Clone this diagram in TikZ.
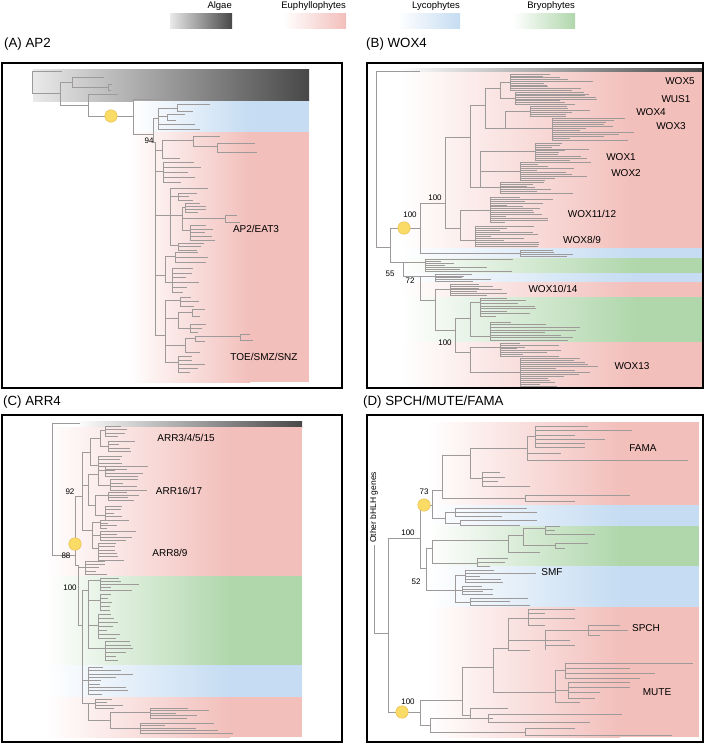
\documentclass[tikz,border=0pt]{standalone}
\usepackage{fontspec}
\setmainfont{Liberation Sans}

\definecolor{euph}{RGB}{242,191,187}
\definecolor{lyco}{RGB}{197,220,242}
\definecolor{bryo}{RGB}{176,215,172}
\definecolor{algae}{RGB}{72,72,72}
\definecolor{nodefill}{RGB}{250,219,102}
\definecolor{nodeline}{RGB}{226,186,70}
\definecolor{twig}{RGB}{158,154,154}

\tikzset{
  branch/.style={draw=twig, line width=0.3pt},
  panel/.style={draw=black, line width=1.6pt},
  title/.style={anchor=west, inner sep=0pt, font=\fontsize{13.3}{15}\selectfont},
  clade/.style={inner sep=0pt, font=\fontsize{10}{12}\selectfont},
  boot/.style={inner sep=0pt, font=\fontsize{8}{9}\selectfont},
  keytext/.style={anchor=base east, inner sep=0pt, font=\fontsize{9.5}{11}\selectfont},
  dupnode/.style={circle, fill=nodefill, draw=nodeline, line width=0.4pt, minimum size=12.5pt, inner sep=0pt},
}

% x start (white), x full colour, x end, y top, y bottom, colour
\newcommand{\colband}[6]{%
  \shade[left color=white, right color=#6] (#1,#4) rectangle (#2,#5);
  \fill[#6] (#2,#4) rectangle (#3,#5);}

% stem x, top y, bottom y, intervals, shortest tip x, longest tip x
\newcommand{\tipcomb}[6]{%
  \draw[branch] (#1,#2) -- (#1,#3);
  \foreach \k in {0,...,#4}{%
    \pgfmathsetmacro{\tipy}{#2+\k*(#3-#2)/#4}
    \pgfmathsetmacro{\tipx}{#5+rnd*(#6-#5)}
    \draw[branch] (#1,\tipy) -- (\tipx,\tipy);
  }}

\begin{document}
\begin{tikzpicture}[x=1pt, y=-1pt]
\useasboundingbox (0,0) rectangle (709,745);
\pgfmathsetseed{11}

% key
\shade[left color=algae!12, right color=algae] (170,13) rectangle (232,28);
\shade[left color=white, right color=euph] (283,13) rectangle (346,28);
\shade[left color=white, right color=lyco] (398,13) rectangle (460,28);
\shade[left color=white, right color=bryo] (513,13) rectangle (575,28);
\node[keytext] (keyalgae) at (232,8) {Algae};
\node[keytext] (keyeuph) at (346,8) {Euphyllophytes};
\node[keytext] (keylyco) at (460,8) {Lycophytes};
\node[keytext] (keybryo) at (575,8) {Bryophytes};

\node[title] (titleA) at (4,44) {(A) AP2};
\node[title] (titleB) at (366,44) {(B) WOX4};
\node[title] (titleC) at (3,402) {(C) ARR4};
\node[title] (titleD) at (363,402) {(D) SPCH/MUTE/FAMA};

% (A) AP2
\shade[left color=algae!12, right color=algae] (33,69) rectangle (309,101);
\colband{133}{250}{309}{101}{132}{lyco}
\colband{128}{250}{309}{132}{382}{euph}

\draw[branch] (32,71) -- (32,93);
\draw[branch] (32,71) -- (62,71);
\draw[branch] (32,93) -- (60,93);
\draw[branch] (60,82) -- (60,105);
\draw[branch] (60,82) -- (72,82);
\draw[branch] (72,77) -- (72,87);
\draw[branch] (72,77) -- (104,77);
\draw[branch] (72,87) -- (108,87);
\draw[branch] (108,84) -- (108,90);
\draw[branch] (108,84) -- (112,84);
\draw[branch] (108,90) -- (111,90);
\draw[branch] (60,105) -- (88,105);
\draw[branch] (88,94) -- (88,116);
\draw[branch] (88,94) -- (118,94);
\draw[branch] (88,116) -- (133,116);
\draw[branch] (133,99) -- (133,134);
\draw[branch] (133,99) -- (172,99);
\draw[branch] (133,134) -- (153,134);
\draw[branch] (153,118) -- (153,142);
\draw[branch] (153,118) -- (158,118);
\draw[branch] (158,108) -- (158,129);
\draw[branch] (158,108) -- (177,108);
\draw[branch] (177,104) -- (177,111);
\draw[branch] (177,104) -- (210,104);
\draw[branch] (177,111) -- (193,111);
\draw[branch] (158,116) -- (167,116);
\draw[branch] (167,114) -- (167,120);
\draw[branch] (167,114) -- (185,114);
\draw[branch] (167,120) -- (176,120);
\draw[branch] (158,124) -- (195,124);
\draw[branch] (158,129) -- (200,129);
\draw[branch] (153,142) -- (155,142);
\draw[branch] (155,142) -- (155,335);
\draw[branch] (155,150) -- (162,150);
\draw[branch] (162,140) -- (162,158);
\draw[branch] (162,140) -- (193,140);
\draw[branch] (193,136) -- (193,146);
\draw[branch] (193,136) -- (220,136);
\draw[branch] (193,146) -- (217,146);
\draw[branch] (217,143) -- (217,152);
\draw[branch] (217,143) -- (255,143);
\draw[branch] (217,152) -- (257,152);
\draw[branch] (162,158) -- (180,158);
\draw[branch] (155,171) -- (163,171);
\tipcomb{163}{162}{182}{4}{180}{202}
\draw[branch] (155,215) -- (170,215);
\draw[branch] (170,188) -- (170,245);
\draw[branch] (170,188) -- (208,188);
\draw[branch] (170,196) -- (178,196);
\tipcomb{178}{193}{200}{2}{185}{205}
\draw[branch] (170,215) -- (182,215);
\draw[branch] (182,207) -- (182,230);
\draw[branch] (182,207) -- (185,207);
\tipcomb{185}{203}{212}{3}{195}{212}
\draw[branch] (182,218) -- (225,218);
\draw[branch] (225,215) -- (225,222);
\draw[branch] (225,215) -- (237,215);
\draw[branch] (225,222) -- (240,222);
\draw[branch] (182,230) -- (190,230);
\tipcomb{190}{225}{240}{4}{200}{218}
\draw[branch] (170,245) -- (178,245);
\tipcomb{178}{243}{250}{2}{190}{205}
\draw[branch] (155,275) -- (165,275);
\draw[branch] (165,256) -- (165,282);
\draw[branch] (165,256) -- (175,256);
\tipcomb{175}{252}{262}{2}{195}{212}
\draw[branch] (165,282) -- (172,282);
\tipcomb{172}{268}{292}{5}{182}{200}
\draw[branch] (155,335) -- (165,335);
\draw[branch] (165,300) -- (165,362);
\draw[branch] (165,300) -- (180,300);
\tipcomb{180}{297}{306}{2}{190}{205}
\draw[branch] (165,318) -- (178,318);
\draw[branch] (178,312) -- (178,328);
\draw[branch] (178,312) -- (192,312);
\draw[branch] (192,309) -- (192,316);
\draw[branch] (192,309) -- (205,309);
\draw[branch] (192,316) -- (200,316);
\draw[branch] (178,328) -- (190,328);
\tipcomb{190}{324}{332}{2}{195}{208}
\draw[branch] (165,345) -- (185,345);
\draw[branch] (185,338) -- (185,352);
\draw[branch] (185,338) -- (195,338);
\draw[branch] (195,336) -- (195,341);
\draw[branch] (195,336) -- (240,336);
\draw[branch] (240,334) -- (240,340);
\draw[branch] (240,334) -- (250,334);
\draw[branch] (240,340) -- (253,340);
\draw[branch] (195,341) -- (205,341);
\draw[branch] (185,352) -- (200,352);
\draw[branch] (165,362) -- (178,362);
\tipcomb{178}{356}{372}{4}{188}{218}

\node[dupnode] (dupA) at (111,116) {};
\node[boot] (bootA) at (149,141) {94};
\node[clade] (cladeap2) at (256,229) {AP2/EAT3};
\node[clade] (cladetoe) at (264,357) {TOE/SMZ/SNZ};

% (B) WOX4
\shade[left color=white, right color=algae] (398,68) rectangle (702,72);
\colband{400}{635}{702}{72}{248}{euph}
\colband{400}{635}{702}{248}{258}{lyco}
\colband{400}{635}{702}{258}{273}{bryo}
\colband{400}{635}{702}{273}{282}{lyco}
\colband{400}{635}{702}{282}{297}{euph}
\colband{400}{635}{702}{297}{342}{bryo}
\colband{400}{635}{702}{342}{387}{euph}

\draw[branch] (376,71) -- (376,247);
\draw[branch] (376,71) -- (420,71);
\draw[branch] (376,247) -- (390,247);
\draw[branch] (390,228) -- (390,262);
\draw[branch] (390,228) -- (420,228);
\draw[branch] (420,203) -- (420,253);
\draw[branch] (420,253) -- (520,253);
\tipcomb{520}{250}{256}{3}{545}{590}
\draw[branch] (420,203) -- (445,203);
\draw[branch] (445,137) -- (445,228);
\draw[branch] (445,137) -- (470,137);
\draw[branch] (470,105) -- (470,187);
\draw[branch] (470,105) -- (485,105);
\draw[branch] (485,88) -- (485,128);
\draw[branch] (485,88) -- (500,88);
\draw[branch] (500,82) -- (500,98);
\draw[branch] (500,82) -- (510,82);
\tipcomb{510}{74}{90}{9}{540}{600}
\draw[branch] (500,98) -- (515,98);
\tipcomb{515}{92}{104}{7}{545}{610}
\draw[branch] (485,128) -- (505,128);
\draw[branch] (505,111) -- (505,128);
\draw[branch] (505,111) -- (530,111);
\tipcomb{530}{106}{116}{5}{550}{620}
\draw[branch] (505,128) -- (552,128);
\tipcomb{552}{118}{140}{11}{570}{640}
\draw[branch] (470,187) -- (480,187);
\draw[branch] (480,151) -- (480,187);
\draw[branch] (480,151) -- (535,151);
\tipcomb{535}{143}{160}{9}{550}{598}
\draw[branch] (480,171) -- (520,171);
\tipcomb{520}{162}{180}{9}{535}{600}
\draw[branch] (480,187) -- (500,187);
\tipcomb{500}{182}{193}{6}{515}{575}
\draw[branch] (445,228) -- (460,228);
\draw[branch] (460,210) -- (460,240);
\draw[branch] (460,210) -- (490,210);
\tipcomb{490}{197}{222}{13}{505}{560}
\draw[branch] (460,240) -- (475,240);
\tipcomb{475}{226}{246}{10}{490}{540}
\draw[branch] (390,262) -- (403,262);
\draw[branch] (403,262) -- (403,276);
\draw[branch] (403,262) -- (425,262);
\tipcomb{425}{259}{271}{6}{440}{520}
\draw[branch] (403,276) -- (420,276);
\draw[branch] (420,276) -- (420,300);
\draw[branch] (420,276) -- (435,276);
\tipcomb{435}{274}{281}{4}{455}{500}
\draw[branch] (420,300) -- (435,300);
\draw[branch] (435,289) -- (435,330);
\draw[branch] (435,289) -- (450,289);
\tipcomb{450}{284}{295}{6}{470}{515}
\draw[branch] (435,330) -- (455,330);
\draw[branch] (455,318) -- (455,352);
\draw[branch] (455,318) -- (470,318);
\draw[branch] (470,302) -- (470,336);
\draw[branch] (470,302) -- (480,302);
\tipcomb{480}{298}{316}{7}{495}{545}
\draw[branch] (470,336) -- (490,336);
\tipcomb{490}{322}{340}{7}{510}{600}
\draw[branch] (455,352) -- (470,352);
\draw[branch] (470,347) -- (470,372);
\draw[branch] (470,347) -- (500,347);
\tipcomb{500}{343}{356}{7}{515}{575}
\draw[branch] (470,372) -- (520,372);
\tipcomb{520}{358}{386}{14}{535}{600}

\node[dupnode] (dupB) at (404,228) {};
\node[boot] (bootB1) at (435,198) {100};
\node[boot] (bootB2) at (410,215) {100};
\node[boot] (bootB3) at (390,274) {55};
\node[boot] (bootB4) at (410,281) {72};
\node[boot] (bootB5) at (445,343) {100};
\node[clade] (cladewox5) at (680,81) {WOX5};
\node[clade] (cladewus1) at (676,99) {WUS1};
\node[clade] (cladewox4) at (651,112) {WOX4};
\node[clade] (cladewox3) at (671,126) {WOX3};
\node[clade] (cladewox1) at (621,157) {WOX1};
\node[clade] (cladewox2) at (626,173) {WOX2};
\node[clade] (cladewox11) at (592,214) {WOX11/12};
\node[clade] (cladewox8) at (582,240) {WOX8/9};
\node[clade] (cladewox10) at (553,289) {WOX10/14};
\node[clade] (cladewox13) at (632,366) {WOX13};

% (C) ARR4
\shade[left color=white, right color=algae] (75,421) rectangle (302,427);
\colband{45}{230}{302}{427}{576}{euph}
\colband{45}{230}{302}{576}{665}{bryo}
\colband{45}{230}{302}{665}{697}{lyco}
\colband{45}{230}{302}{697}{737}{euph}

\draw[branch] (52,423) -- (52,555);
\draw[branch] (52,423) -- (80,423);
\draw[branch] (52,555) -- (75,555);
\draw[branch] (75,496) -- (75,565);
\draw[branch] (75,496) -- (82,496);
\draw[branch] (82,452) -- (82,530);
\draw[branch] (82,452) -- (90,452);
\draw[branch] (90,438) -- (90,465);
\draw[branch] (90,438) -- (100,438);
\draw[branch] (100,430) -- (100,446);
\draw[branch] (100,430) -- (105,430);
\tipcomb{105}{426}{436}{3}{115}{138}
\draw[branch] (100,446) -- (108,446);
\tipcomb{108}{441}{451}{3}{118}{135}
\draw[branch] (90,465) -- (98,465);
\tipcomb{98}{456}{470}{4}{108}{125}
\draw[branch] (82,485) -- (88,485);
\draw[branch] (88,474) -- (88,505);
\draw[branch] (88,474) -- (98,474);
\draw[branch] (98,470) -- (98,485);
\draw[branch] (98,470) -- (105,470);
\tipcomb{105}{466}{476}{3}{115}{155}
\draw[branch] (98,485) -- (110,485);
\tipcomb{110}{479}{490}{3}{120}{150}
\draw[branch] (88,505) -- (95,505);
\draw[branch] (95,495) -- (95,515);
\draw[branch] (95,495) -- (108,495);
\tipcomb{108}{492}{500}{3}{118}{140}
\draw[branch] (95,515) -- (105,515);
\tipcomb{105}{506}{520}{4}{112}{130}
\draw[branch] (82,530) -- (92,530);
\draw[branch] (92,522) -- (92,548);
\draw[branch] (92,522) -- (100,522);
\tipcomb{100}{520}{528}{3}{105}{120}
\draw[branch] (92,535) -- (100,535);
\tipcomb{100}{531}{540}{3}{115}{150}
\draw[branch] (92,548) -- (98,548);
\tipcomb{98}{543}{560}{5}{105}{125}
\draw[branch] (75,565) -- (78,565);
\draw[branch] (78,565) -- (78,625);
\draw[branch] (78,567) -- (85,567);
\tipcomb{85}{561}{574}{4}{95}{112}
\draw[branch] (78,625) -- (82,625);
\draw[branch] (82,590) -- (82,703);
\draw[branch] (82,590) -- (88,590);
\draw[branch] (88,580) -- (88,648);
\draw[branch] (88,580) -- (100,580);
\tipcomb{100}{578}{590}{4}{110}{145}
\draw[branch] (88,600) -- (100,600);
\tipcomb{100}{594}{610}{4}{106}{120}
\draw[branch] (88,625) -- (98,625);
\tipcomb{98}{614}{638}{6}{105}{122}
\draw[branch] (88,648) -- (105,648);
\tipcomb{105}{641}{660}{5}{112}{135}
\draw[branch] (82,680) -- (88,680);
\tipcomb{88}{667}{694}{8}{100}{135}
\draw[branch] (82,703) -- (88,703);
\draw[branch] (88,703) -- (88,720);
\draw[branch] (88,703) -- (95,703);
\tipcomb{95}{699}{708}{3}{105}{125}
\draw[branch] (88,720) -- (110,720);
\draw[branch] (110,712) -- (110,728);
\draw[branch] (110,712) -- (150,712);
\tipcomb{150}{708}{718}{4}{165}{210}
\draw[branch] (110,728) -- (140,728);
\tipcomb{140}{723}{733}{4}{160}{248}

\node[dupnode] (dupC) at (75,544) {};
\node[boot] (bootC1) at (70,492) {92};
\node[boot] (bootC2) at (66,556) {88};
\node[boot] (bootC3) at (70,588) {100};
\node[clade] (cladearr3) at (186,438) {ARR3/4/5/15};
\node[clade] (cladearr16) at (179,491) {ARR16/17};
\node[clade] (cladearr8) at (170,553) {ARR8/9};

% (D) SPCH/MUTE/FAMA
\colband{428}{620}{699}{422}{505}{euph}
\colband{428}{620}{699}{505}{526}{lyco}
\colband{428}{620}{699}{526}{566}{bryo}
\colband{428}{620}{699}{566}{607}{lyco}
\colband{428}{620}{699}{607}{737}{euph}

\draw[branch] (374,545) -- (374,633);
\draw[branch] (374,633) -- (388,633);
\draw[branch] (388,538) -- (388,712);
\draw[branch] (388,538) -- (420,538);
\draw[branch] (388,712) -- (420,712);
\draw[branch] (420,505) -- (420,568);
\draw[branch] (420,505) -- (432,505);
\draw[branch] (432,490) -- (432,518);
\draw[branch] (432,490) -- (442,490);
\draw[branch] (442,455) -- (442,498);
\draw[branch] (442,455) -- (470,455);
\draw[branch] (470,448) -- (470,478);
\draw[branch] (470,448) -- (527,448);
\draw[branch] (527,436) -- (527,460);
\draw[branch] (527,436) -- (535,436);
\draw[branch] (535,426) -- (535,447);
\foreach \y/\x in {426/588, 430/632, 435/575, 439/605, 443/585, 447/585}
  \draw[branch] (535,\y) -- (\x,\y);
\draw[branch] (527,453) -- (561,453);
\draw[branch] (527,460) -- (688,460);
\draw[branch] (470,478) -- (482,478);
\draw[branch] (482,472) -- (482,486);
\foreach \y/\x in {472/500, 477/505, 481/498, 486/530}
  \draw[branch] (482,\y) -- (\x,\y);
\draw[branch] (442,498) -- (525,498);
\draw[branch] (525,495) -- (525,501);
\draw[branch] (525,495) -- (630,495);
\draw[branch] (525,501) -- (575,501);
\draw[branch] (432,518) -- (445,518);
\draw[branch] (445,512) -- (445,523);
\draw[branch] (445,512) -- (455,512);
\draw[branch] (455,508) -- (455,516);
\foreach \y/\x in {508/527, 512/537, 516/502}
  \draw[branch] (455,\y) -- (\x,\y);
\draw[branch] (445,523) -- (460,523);
\draw[branch] (460,520) -- (460,525);
\draw[branch] (460,520) -- (537,520);
\draw[branch] (460,525) -- (520,525);
\draw[branch] (420,568) -- (426,568);
\draw[branch] (426,548) -- (426,590);
\draw[branch] (426,548) -- (432,548);
\draw[branch] (432,540) -- (432,563);
\draw[branch] (432,540) -- (508,540);
\draw[branch] (508,535) -- (508,552);
\draw[branch] (508,535) -- (523,535);
\draw[branch] (523,528) -- (523,545);
\draw[branch] (523,528) -- (545,528);
\draw[branch] (545,526) -- (545,534);
\foreach \y/\x in {526/560, 530/555, 534/595}
  \draw[branch] (545,\y) -- (\x,\y);
\draw[branch] (523,545) -- (555,545);
\draw[branch] (555,543) -- (555,548);
\draw[branch] (555,543) -- (588,543);
\draw[branch] (555,548) -- (565,548);
\draw[branch] (508,552) -- (540,552);
\draw[branch] (432,563) -- (477,563);
\draw[branch] (477,558) -- (477,566);
\foreach \y/\x in {558/508, 562/505, 566/490}
  \draw[branch] (477,\y) -- (\x,\y);
\draw[branch] (426,590) -- (455,590);
\draw[branch] (455,575) -- (455,602);
\draw[branch] (455,575) -- (465,575);
\tipcomb{465}{570}{582}{4}{480}{543}
\draw[branch] (455,590) -- (462,590);
\tipcomb{462}{586}{594}{3}{475}{500}
\draw[branch] (455,602) -- (470,602);
\tipcomb{470}{598}{605}{2}{500}{543}
\draw[branch] (420,700) -- (420,725);
\draw[branch] (420,700) -- (462,700);
\draw[branch] (462,667) -- (462,715);
\draw[branch] (462,667) -- (493,667);
\draw[branch] (493,648) -- (493,692);
\draw[branch] (493,648) -- (508,648);
\draw[branch] (508,618) -- (508,650);
\draw[branch] (508,618) -- (528,618);
\draw[branch] (528,609) -- (528,625);
\foreach \y/\x in {609/575, 613/545, 618/575, 625/545}
  \draw[branch] (528,\y) -- (\x,\y);
\draw[branch] (508,640) -- (545,640);
\draw[branch] (545,630) -- (545,650);
\draw[branch] (545,630) -- (588,630);
\draw[branch] (588,625) -- (588,635);
\foreach \y/\x in {625/620, 630/628, 635/600}
  \draw[branch] (588,\y) -- (\x,\y);
\foreach \y/\x in {640/570, 645/575, 650/545}
  \draw[branch] (545,\y) -- (\x,\y);
\draw[branch] (508,650) -- (530,650);
\draw[branch] (493,692) -- (555,692);
\draw[branch] (555,670) -- (555,702);
\draw[branch] (555,670) -- (565,670);
\draw[branch] (565,663) -- (565,678);
\foreach \y/\x in {663/693, 668/630, 673/655, 678/640}
  \draw[branch] (565,\y) -- (\x,\y);
\draw[branch] (555,690) -- (568,690);
\draw[branch] (568,682) -- (568,698);
\foreach \y/\x in {682/630, 687/630, 692/600, 698/595}
  \draw[branch] (568,\y) -- (\x,\y);
\draw[branch] (555,702) -- (580,702);
\draw[branch] (462,715) -- (470,715);
\draw[branch] (470,708) -- (470,718);
\draw[branch] (470,708) -- (508,708);
\draw[branch] (470,718) -- (493,718);
\draw[branch] (420,725) -- (430,725);
\draw[branch] (430,718) -- (430,732);
\draw[branch] (430,718) -- (488,718);
\draw[branch] (488,714) -- (488,722);
\draw[branch] (488,714) -- (622,714);
\draw[branch] (488,722) -- (590,722);
\draw[branch] (430,732) -- (525,732);
\draw[branch] (525,728) -- (525,735);
\draw[branch] (525,728) -- (575,728);
\draw[branch] (525,735) -- (672,735);

\node[dupnode] (dupD1) at (424,505) {};
\node[dupnode] (dupD2) at (402,712) {};
\node[boot] (bootD1) at (424,492) {73};
\node[boot] (bootD2) at (408,533) {100};
\node[boot] (bootD3) at (416,582) {52};
\node[boot] (bootD4) at (408,702) {100};
\node[rotate=90, anchor=west, inner sep=0pt, font=\fontsize{8.5}{10}\selectfont] (outgroupD) at (374,543) {Other bHLH genes};
\node[clade] (cladefama) at (643,448) {FAMA};
\node[clade] (cladesmf) at (552,572) {SMF};
\node[clade] (cladespch) at (646,628) {SPCH};
\node[clade] (clademute) at (657,692) {MUTE};

% frames
\draw[panel] (2,63) rectangle (342,388);
\draw[panel] (367,63) rectangle (703,388);
\draw[panel] (2,415) rectangle (342,742);
\draw[panel] (367,415) rectangle (703,742);
\end{tikzpicture}
\end{document}
